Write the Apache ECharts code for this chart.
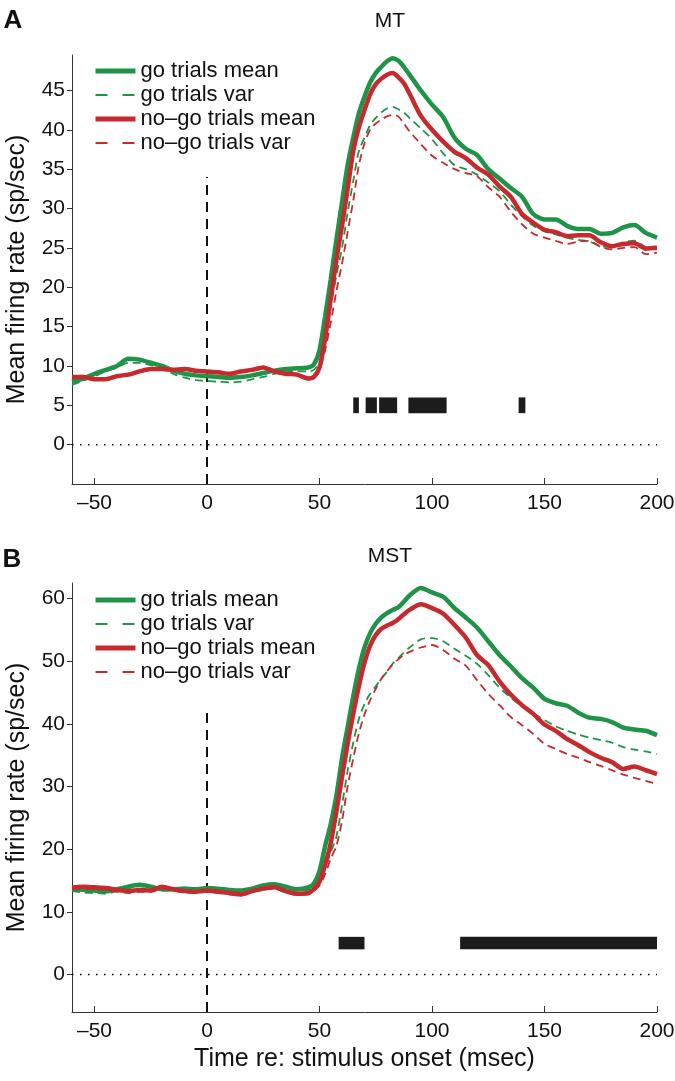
<!DOCTYPE html>
<html>
<head>
<meta charset="utf-8">
<script src="https://cdn.jsdelivr.net/npm/echarts@6/dist/echarts.min.js"></script>
<style>
html, body { margin: 0; padding: 0; background: #fff; }
#main { width: 675px; height: 1081px; }
</style>
</head>
<body>
<div id="main"></div>
<script>
// time samples (msec re: stimulus onset), shared by both panels
var times = [-60,-55,-50,-45,-40,-35,-30,-25,-20,-15,-10,-5,0,5,10,15,20,25,30,35,40,45,
  47.5,50,52.5,55,57.5,60,62.5,65,67.5,70,72.5,75,77.5,80,82.5,85,87.5,90,
  95,100,105,110,115,120,125,130,135,140,145,150,155,160,165,170,175,180,185,190,195,200];

// panel A - MT
var mtGoMean = [8.0,8.4,9.0,9.5,10.0,10.9,10.8,10.4,10.0,9.4,9.0,8.8,8.7,8.6,8.5,8.6,8.8,9.1,9.4,9.6,9.7,9.8,
  10.2,12.0,16.3,21.0,26.0,30.8,35.5,39.0,42.1,44.2,46.0,47.2,48.0,48.7,49.1,48.8,48.0,47.0,
  45.0,43.2,41.6,39.0,37.6,36.8,35.0,33.8,32.6,31.5,29.3,28.6,28.6,27.8,27.4,27.4,26.8,26.9,27.6,27.9,26.9,26.3];
var mtGoVar = [7.6,8.1,8.7,9.3,9.8,10.4,10.4,10.1,9.7,9.0,8.5,8.2,8.1,8.0,7.9,8.0,8.3,8.6,9.0,9.2,9.3,9.3,
  9.5,10.5,13.5,17.5,21.5,25.0,29.5,33.5,37.3,39.0,40.6,41.5,42.2,42.7,42.9,42.6,42.2,41.5,
  40.2,38.8,37.0,35.5,35.0,34.3,33.3,32.2,30.5,29.0,27.8,27.1,26.7,26.3,26.0,25.8,25.2,25.1,25.7,25.9,25.1,24.8];
var mtNogoMean = [8.6,8.6,8.3,8.3,8.7,8.9,9.3,9.6,9.6,9.5,9.6,9.4,9.3,9.2,9.0,9.3,9.5,9.8,9.3,9.0,8.9,8.4,
  8.6,9.8,13.5,18.5,23.5,27.8,32.5,37.3,40.3,42.5,44.5,45.8,46.5,47.0,47.2,46.7,45.9,44.6,
  41.8,40.0,38.5,37.2,36.4,35.2,34.3,32.8,31.5,29.3,28.2,27.3,27.0,26.5,26.6,26.6,25.7,25.2,25.5,25.6,24.9,25.0];
var mtNogoVar = [8.4,8.5,8.2,8.2,8.6,8.8,9.2,9.5,9.5,9.4,9.5,9.3,9.2,9.1,8.9,9.2,9.4,9.6,9.2,8.9,8.8,8.3,
  8.4,9.5,12.0,15.5,19.5,23.0,27.0,31.0,35.5,38.3,40.0,40.8,41.3,41.7,41.9,41.7,40.8,39.8,
  38.2,36.7,35.8,35.0,34.5,34.1,32.7,31.5,29.6,28.0,26.8,26.3,25.9,25.5,25.8,25.9,25.1,24.8,25.0,25.1,24.2,24.4];

// panel B - MST
var mstGoMean = [13.6,13.5,13.4,13.3,13.6,14.0,14.3,14.0,13.6,13.6,13.7,13.6,13.8,13.7,13.5,13.4,13.7,14.2,14.4,14.0,13.6,13.9,
  14.5,16.5,20.5,24.0,28.5,34.5,39.5,44.4,48.8,52.2,54.5,56.0,57.0,57.7,58.2,58.6,59.5,60.5,
  61.7,61.0,60.3,58.5,57.0,55.4,53.2,51.0,49.2,47.3,45.8,44.0,43.3,42.9,41.8,41.0,40.8,40.3,39.4,39.1,38.9,38.2];
var mstGoVar = [13.3,13.1,13.0,12.9,13.3,13.7,14.1,13.8,13.4,13.4,13.5,13.4,13.6,13.5,13.3,13.2,13.5,14.0,14.2,13.8,13.4,13.5,
  13.9,15.0,17.0,19.5,22.0,27.0,32.5,37.0,40.8,43.2,44.8,46.0,47.3,48.3,49.6,50.5,51.4,52.2,
  53.5,53.7,53.2,52.0,50.9,49.6,47.8,45.8,44.2,42.8,41.7,40.6,39.6,38.9,38.3,37.8,37.4,37.0,36.3,35.9,35.6,35.2];
var mstNogoMean = [13.9,14.0,13.9,13.8,13.5,13.3,13.5,13.4,14.0,13.6,13.3,13.2,13.4,13.2,13.0,12.8,13.3,13.7,13.9,13.3,12.9,13.0,
  13.6,14.8,17.5,21.0,26.0,31.5,36.8,41.6,46.0,49.8,52.5,54.2,55.2,55.7,56.1,56.7,57.5,58.2,
  59.1,58.5,57.6,55.8,53.8,51.0,49.4,46.8,44.7,43.0,41.6,39.9,38.9,37.6,36.6,35.5,34.6,33.9,32.8,33.2,32.6,32.0];
var mstNogoVar = [13.6,13.7,13.6,13.5,13.2,13.0,13.2,13.2,13.7,13.4,13.1,13.0,13.2,13.0,12.8,12.6,13.1,13.5,13.7,13.1,12.7,12.8,
  13.3,14.2,16.0,18.5,20.5,24.5,30.0,34.5,38.5,41.5,43.8,45.6,47.2,48.4,49.5,50.3,51.0,51.5,
  52.2,52.6,51.8,50.4,49.3,47.0,44.8,43.0,41.1,39.8,38.4,36.8,36.0,35.2,34.6,33.9,33.3,32.6,31.9,31.4,30.9,30.4];

// significant time bins [start, end] (msec)
var sigA = [[65, 67.5], [70.5, 75.5], [76.5, 84.5], [89.5, 106.5], [138.5, 141.5]];
var sigB = [[58.5, 70], [112.5, 200]];
var sigLevel = [4, 6];

// stimulus onset marker extents (y values)
var onsetA = [-5, 34];
var onsetB = [-6, 42.7];

var xTicks = [-50, 0, 50, 100, 150, 200];
var yTicksA = [0, 5, 10, 15, 20, 25, 30, 35, 40, 45];
var yTicksB = [0, 10, 20, 30, 40, 50, 60];

var names = ['go trials mean', 'go trials var', 'no\u2013go trials mean', 'no\u2013go trials var'];

var FONT = 'Liberation Sans, Arial, sans-serif';
var GREEN = '#1f9448';
var RED = '#c62a2f';

function zip(xs, ys) {
    return xs.map(function (x, i) { return [x, ys[i]]; });
}

function minusFmt(v) {
    return v < 0 ? '\u2013' + Math.abs(v) : String(v);
}

function xAxis(gi, withName) {
    var ax = {
        type: 'value', gridIndex: gi, min: -60, max: 200,
        axisLine: { onZero: false, lineStyle: { color: '#333', width: 1 } },
        axisTick: { inside: true, length: 6, customValues: xTicks, lineStyle: { color: '#333' } },
        axisLabel: { customValues: xTicks, formatter: minusFmt, fontSize: 21, color: '#111', margin: 9, fontFamily: FONT },
        splitLine: { show: false }
    };
    if (withName) {
        ax.name = 'Time re: stimulus onset (msec)';
        ax.nameLocation = 'middle';
        ax.nameGap = 35;
        ax.nameTextStyle = { fontSize: 25, color: '#111', fontFamily: FONT };
    }
    return ax;
}

function yAxis(gi, min, max, ticks) {
    return {
        type: 'value', gridIndex: gi, min: min, max: max,
        name: 'Mean firing rate (sp/sec)', nameLocation: 'middle', nameGap: 42,
        nameTextStyle: { fontSize: 25, color: '#111', fontFamily: FONT },
        axisLine: { onZero: false, lineStyle: { color: '#333', width: 1 } },
        axisTick: { inside: false, length: 5, customValues: ticks, lineStyle: { color: '#333' } },
        axisLabel: { customValues: ticks, fontSize: 21, color: '#111', margin: 7, fontFamily: FONT },
        splitLine: { show: false }
    };
}

function curve(name, gi, data, color, solid) {
    return {
        name: name, type: 'line', xAxisIndex: gi, yAxisIndex: gi,
        data: data, symbol: 'none', smooth: 0.25, silent: true,
        lineStyle: solid ? { color: color, width: 4.5 } : { color: color, width: 1.8, type: [8, 5] },
        itemStyle: { color: color }
    };
}

function sigSeries(gi, spans) {
    return {
        type: 'custom', xAxisIndex: gi, yAxisIndex: gi, silent: true,
        data: spans.map(function (s) { return [s[0], s[1], sigLevel[0], sigLevel[1]]; }),
        encode: { x: [0, 1], y: [2, 3] },
        renderItem: function (params, api) {
            var p0 = api.coord([api.value(0), api.value(2)]);
            var p1 = api.coord([api.value(1), api.value(3)]);
            return {
                type: 'rect',
                shape: { x: p0[0], y: p1[1], width: p1[0] - p0[0], height: p0[1] - p1[1] },
                style: { fill: '#1c1c1c' }
            };
        }
    };
}

function guideSeries(gi, onset) {
    return [{
        type: 'line', xAxisIndex: gi, yAxisIndex: gi, silent: true, symbol: 'none',
        data: [[-60, 0], [200, 0]],
        lineStyle: { color: '#000', width: 1.5, type: [1.5, 6.5] }
    }, {
        type: 'line', xAxisIndex: gi, yAxisIndex: gi, silent: true, symbol: 'none',
        data: [[0, onset[0]], [0, onset[1]]],
        lineStyle: { color: '#111', width: 2, type: [10, 7] }
    }];
}

function legend(top) {
    return {
        data: names.map(function (n, i) {
            return i % 2 ? { name: n, lineStyle: { width: 2, type: [12, 15] } } : { name: n, lineStyle: { width: 5 } };
        }),
        orient: 'vertical', left: 93, top: top, padding: 0,
        itemWidth: 40, itemHeight: 16, itemGap: 2, selectedMode: false,
        itemStyle: { opacity: 0, borderWidth: 0 },
        textStyle: { fontSize: 22, lineHeight: 22, color: '#111', fontFamily: FONT }
    };
}

var myChart = echarts.init(document.getElementById('main'), null, { renderer: 'canvas' });

var series = [];
series = series.concat(guideSeries(0, onsetA), guideSeries(1, onsetB));
series.push(sigSeries(0, sigA), sigSeries(1, sigB));
series.push(
    curve(names[0], 0, zip(times, mtGoMean), GREEN, true),
    curve(names[1], 0, zip(times, mtGoVar), GREEN, false),
    curve(names[2], 0, zip(times, mtNogoMean), RED, true),
    curve(names[3], 0, zip(times, mtNogoVar), RED, false),
    curve(names[0], 1, zip(times, mstGoMean), GREEN, true),
    curve(names[1], 1, zip(times, mstGoVar), GREEN, false),
    curve(names[2], 1, zip(times, mstNogoMean), RED, true),
    curve(names[3], 1, zip(times, mstNogoVar), RED, false)
);

var option = {
    animation: false,
    backgroundColor: '#fff',
    textStyle: { fontFamily: FONT },
    grid: [
        { left: 72, width: 585, top: 55, height: 429, outerBoundsMode: 'none', containLabel: false },
        { left: 72, width: 585, top: 583, height: 429, outerBoundsMode: 'none', containLabel: false }
    ],
    xAxis: [xAxis(0, false), xAxis(1, true)],
    yAxis: [yAxis(0, -5, 49.5, yTicksA), yAxis(1, -6, 62.5, yTicksB)],
    legend: [legend(60), legend(589)],
    graphic: [
        { type: 'text', x: 13, y: 21, style: { text: 'A', font: 'bold 26px ' + FONT, fill: '#111', textAlign: 'center', textVerticalAlign: 'middle' } },
        { type: 'text', x: 390, y: 21, style: { text: 'MT', font: '21px ' + FONT, fill: '#111', textAlign: 'center', textVerticalAlign: 'middle' } },
        { type: 'text', x: 12, y: 560, style: { text: 'B', font: 'bold 26px ' + FONT, fill: '#111', textAlign: 'center', textVerticalAlign: 'middle' } },
        { type: 'text', x: 390, y: 556, style: { text: 'MST', font: '21px ' + FONT, fill: '#111', textAlign: 'center', textVerticalAlign: 'middle' } }
    ],
    series: series
};

myChart.setOption(option);
</script>
</body>
</html>
